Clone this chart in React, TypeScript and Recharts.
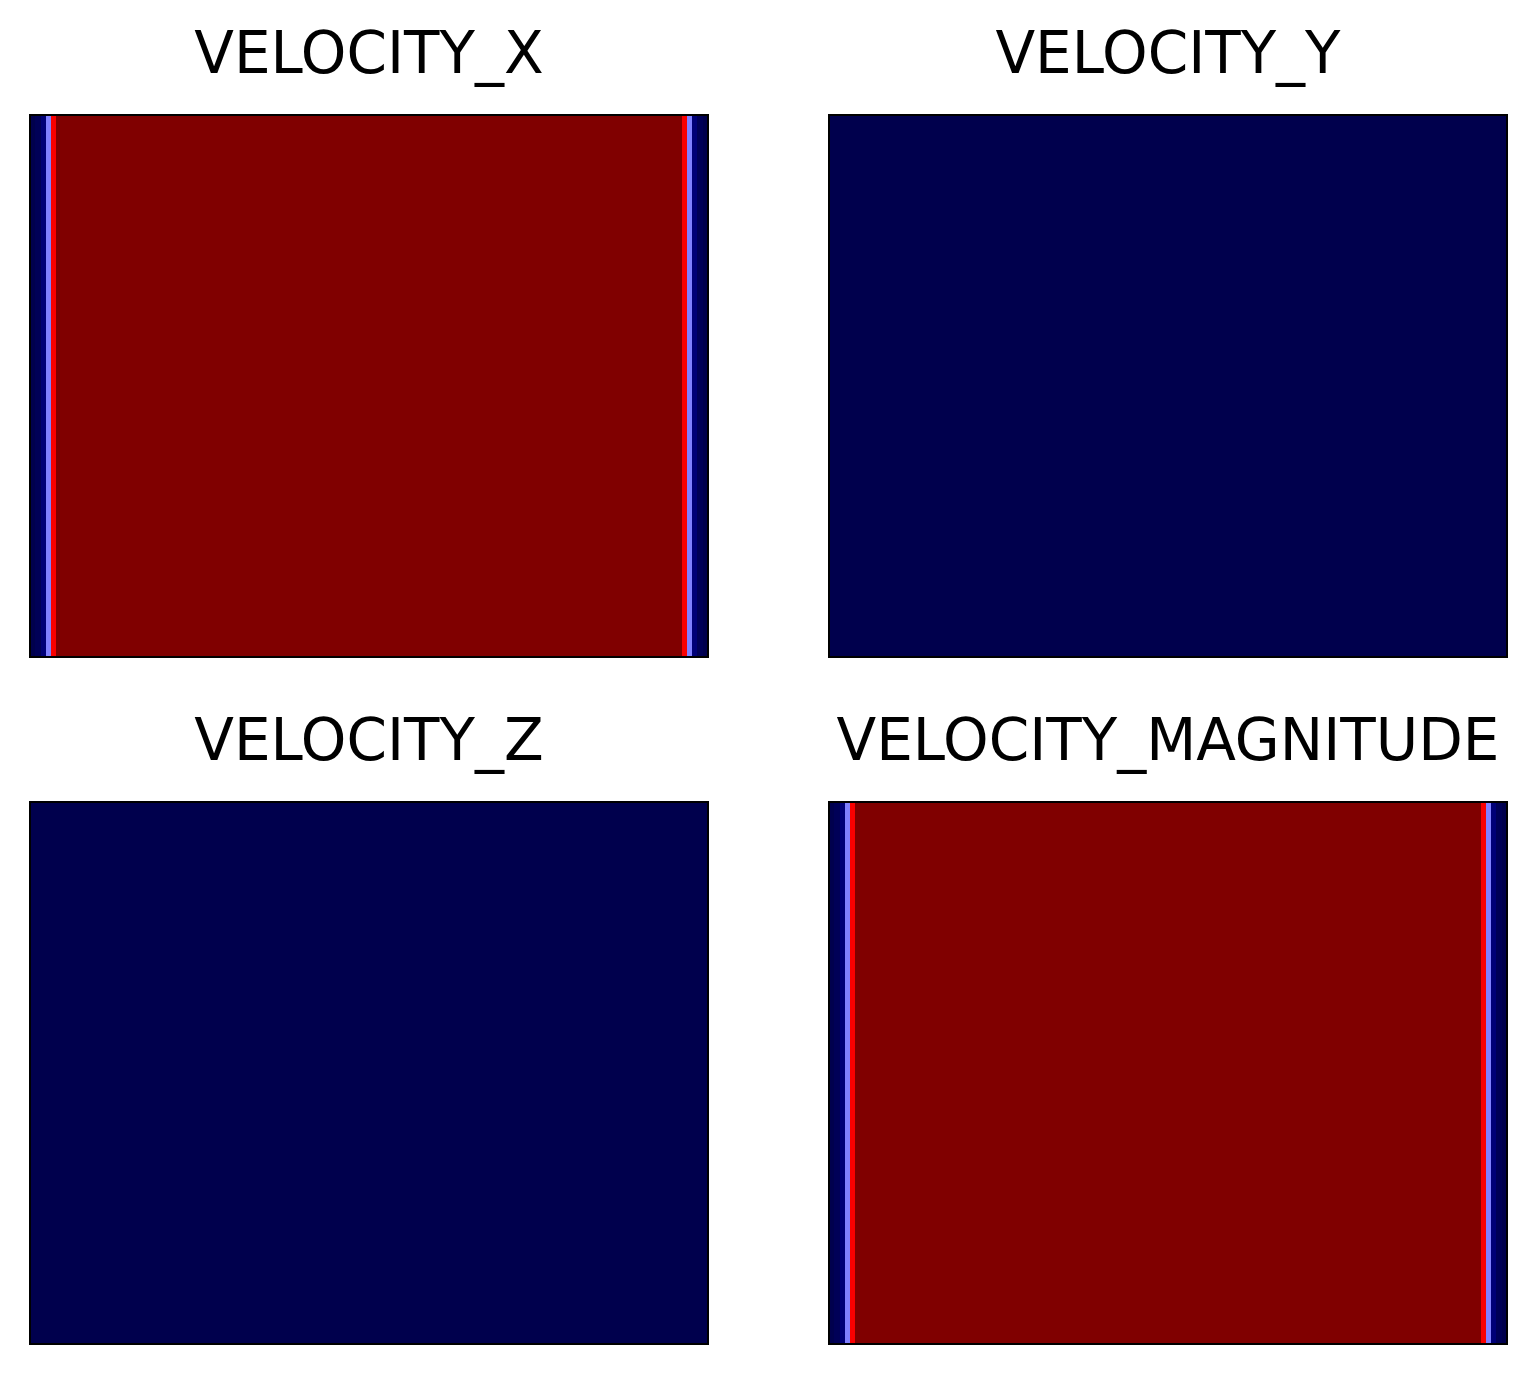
import React from "react";
import { BarChart, Bar, XAxis, YAxis, Cell } from "recharts";

// Column-wise field values across the channel (128 columns), per panel
const velocityX: number[] = [
  0, 0.015, 0.06, 0.375, 0.76, 1, 1, 1, 1, 1, 1, 1, 1, 1, 1, 1,
  1, 1, 1, 1, 1, 1, 1, 1, 1, 1, 1, 1, 1, 1, 1, 1,
  1, 1, 1, 1, 1, 1, 1, 1, 1, 1, 1, 1, 1, 1, 1, 1,
  1, 1, 1, 1, 1, 1, 1, 1, 1, 1, 1, 1, 1, 1, 1, 1,
  1, 1, 1, 1, 1, 1, 1, 1, 1, 1, 1, 1, 1, 1, 1, 1,
  1, 1, 1, 1, 1, 1, 1, 1, 1, 1, 1, 1, 1, 1, 1, 1,
  1, 1, 1, 1, 1, 1, 1, 1, 1, 1, 1, 1, 1, 1, 1, 1,
  1, 1, 1, 1, 1, 1, 1, 1, 1, 1, 1, 0.76, 0.375, 0.06, 0.015, 0,
];
const velocityY: number[] = [
  0, 0, 0, 0, 0, 0, 0, 0, 0, 0, 0, 0, 0, 0, 0, 0,
  0, 0, 0, 0, 0, 0, 0, 0, 0, 0, 0, 0, 0, 0, 0, 0,
  0, 0, 0, 0, 0, 0, 0, 0, 0, 0, 0, 0, 0, 0, 0, 0,
  0, 0, 0, 0, 0, 0, 0, 0, 0, 0, 0, 0, 0, 0, 0, 0,
  0, 0, 0, 0, 0, 0, 0, 0, 0, 0, 0, 0, 0, 0, 0, 0,
  0, 0, 0, 0, 0, 0, 0, 0, 0, 0, 0, 0, 0, 0, 0, 0,
  0, 0, 0, 0, 0, 0, 0, 0, 0, 0, 0, 0, 0, 0, 0, 0,
  0, 0, 0, 0, 0, 0, 0, 0, 0, 0, 0, 0, 0, 0, 0, 0,
];
const velocityZ: number[] = [
  0, 0, 0, 0, 0, 0, 0, 0, 0, 0, 0, 0, 0, 0, 0, 0,
  0, 0, 0, 0, 0, 0, 0, 0, 0, 0, 0, 0, 0, 0, 0, 0,
  0, 0, 0, 0, 0, 0, 0, 0, 0, 0, 0, 0, 0, 0, 0, 0,
  0, 0, 0, 0, 0, 0, 0, 0, 0, 0, 0, 0, 0, 0, 0, 0,
  0, 0, 0, 0, 0, 0, 0, 0, 0, 0, 0, 0, 0, 0, 0, 0,
  0, 0, 0, 0, 0, 0, 0, 0, 0, 0, 0, 0, 0, 0, 0, 0,
  0, 0, 0, 0, 0, 0, 0, 0, 0, 0, 0, 0, 0, 0, 0, 0,
  0, 0, 0, 0, 0, 0, 0, 0, 0, 0, 0, 0, 0, 0, 0, 0,
];
const velocityMagnitude: number[] = [
  0, 0.015, 0.06, 0.375, 0.76, 1, 1, 1, 1, 1, 1, 1, 1, 1, 1, 1,
  1, 1, 1, 1, 1, 1, 1, 1, 1, 1, 1, 1, 1, 1, 1, 1,
  1, 1, 1, 1, 1, 1, 1, 1, 1, 1, 1, 1, 1, 1, 1, 1,
  1, 1, 1, 1, 1, 1, 1, 1, 1, 1, 1, 1, 1, 1, 1, 1,
  1, 1, 1, 1, 1, 1, 1, 1, 1, 1, 1, 1, 1, 1, 1, 1,
  1, 1, 1, 1, 1, 1, 1, 1, 1, 1, 1, 1, 1, 1, 1, 1,
  1, 1, 1, 1, 1, 1, 1, 1, 1, 1, 1, 1, 1, 1, 1, 1,
  1, 1, 1, 1, 1, 1, 1, 1, 1, 1, 1, 0.76, 0.375, 0.06, 0.015, 0,
];

const panelTitles: string[] = ["VELOCITY_X", "VELOCITY_Y", "VELOCITY_Z", "VELOCITY_MAGNITUDE"];
const panelValues: number[][] = [velocityX, velocityY, velocityZ, velocityMagnitude];

// matplotlib "seismic" colormap
function seismic(t: number): string {
  t = Math.max(0, Math.min(1, t));
  let r = 0, g = 0, b = 0;
  if (t <= 0.25) {
    r = 0; g = 0; b = 0.3 + (0.7 * t) / 0.25;
  } else if (t <= 0.5) {
    const u = (t - 0.25) / 0.25;
    r = u; g = u; b = 1;
  } else if (t <= 0.75) {
    const u = (t - 0.5) / 0.25;
    r = 1; g = 1 - u; b = 1 - u;
  } else {
    const u = (t - 0.75) / 0.25;
    r = 1 - 0.5 * u; g = 0; b = 0;
  }
  const h = (x: number) => Math.round(x * 255).toString(16).padStart(2, "0");
  return "#" + h(r) + h(g) + h(b);
}

const PW = 678;
const PH = 542;
const lefts = [30, 829, 30, 829];
const tops = [115, 115, 802, 802];

// cell shape: the library's rect, widened slightly so adjacent columns butt together
const CellShape = (props: any) => {
  const { x, y, width, height, fill } = props;
  return <rect x={x} y={y} width={width + 1.5} height={height} fill={fill} shapeRendering="crispEdges" />;
};

function Panel({ title, values, left, top }: { title: string; values: number[]; left: number; top: number }) {
  const mn = Math.min(...values);
  const mx = Math.max(...values);
  const data = values.map((v, i) => ({ col: i, h: 1, n: mx > mn ? (v - mn) / (mx - mn) : 0 }));
  return (
    <>
      <div
        style={{
          position: "absolute",
          left: left - 200,
          width: PW + 400,
          top: top - 91,
          textAlign: "center",
          fontFamily: "'DejaVu Sans', sans-serif",
          fontSize: 58,
          lineHeight: "58px",
          color: "#000",
          whiteSpace: "nowrap",
        }}
      >
        {title}
      </div>
      <div style={{ position: "absolute", left, top, width: PW, height: PH, overflow: "hidden" }}>
        <BarChart
          width={PW}
          height={PH}
          data={data}
          margin={{ top: 0, right: 0, bottom: 0, left: 0 }}
          barCategoryGap={0}
          barGap={0}
        >
          <XAxis dataKey="col" hide />
          <YAxis domain={[0, 1]} hide />
          <Bar dataKey="h" isAnimationActive={false} shape={CellShape}>
            {data.map((d, i) => (
              <Cell key={i} fill={seismic(d.n)} />
            ))}
          </Bar>
        </BarChart>
      </div>
      <div
        style={{
          position: "absolute",
          left: left - 1,
          top: top - 1,
          width: PW + 2,
          height: PH + 2,
          boxSizing: "border-box",
          border: "2px solid #000",
          pointerEvents: "none",
        }}
      />
    </>
  );
}

export default function App() {
  return (
    <div style={{ position: "absolute", left: 0, top: 0, width: 1537, height: 1375, background: "#fff", overflow: "hidden" }}>
      {panelTitles.map((t, i) => (
        <Panel key={t} title={t} values={panelValues[i]} left={lefts[i]} top={tops[i]} />
      ))}
    </div>
  );
}
